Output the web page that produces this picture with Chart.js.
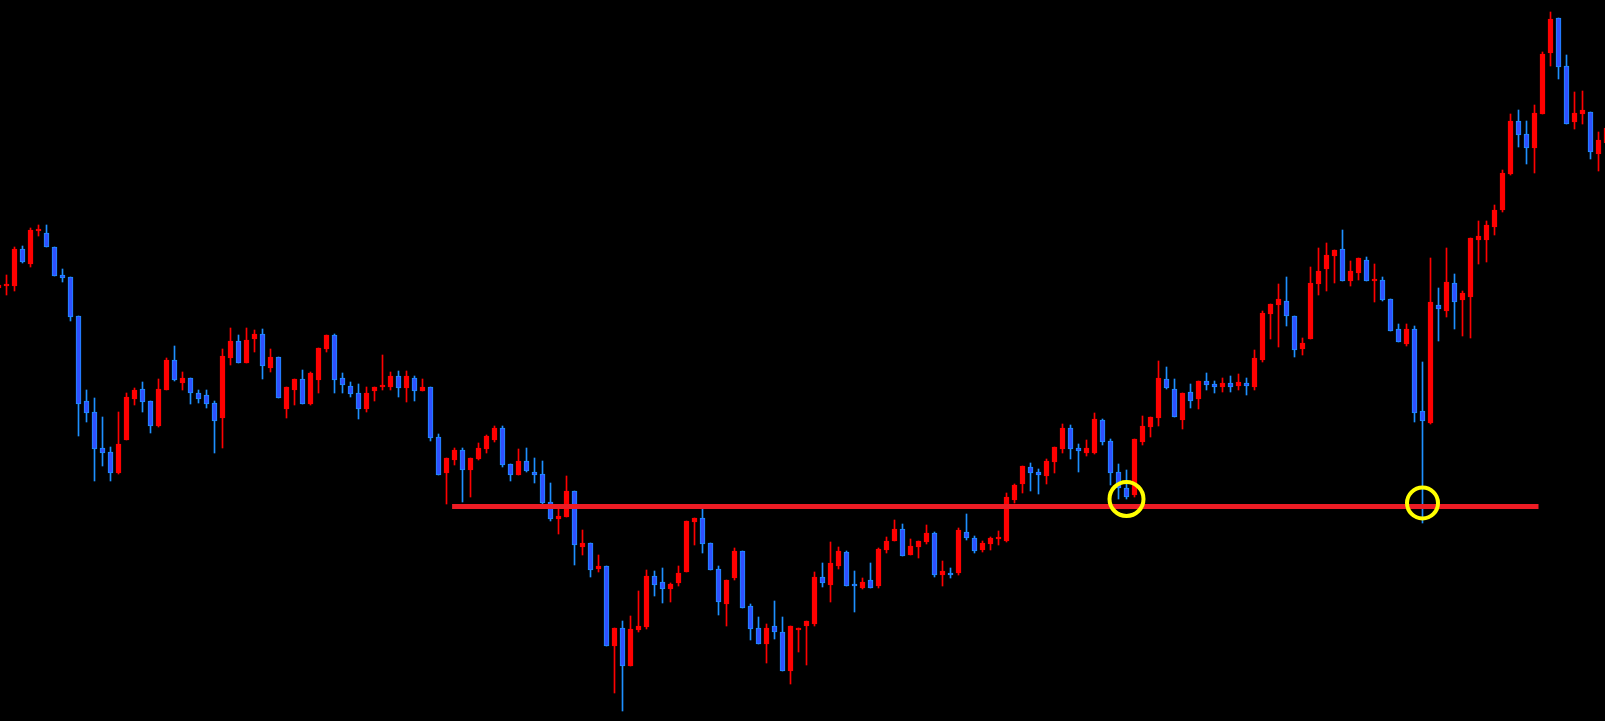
<!DOCTYPE html>
<html>
<head>
<meta charset="utf-8">
<script src="https://cdn.jsdelivr.net/npm/chart.js@4.4.1/dist/chart.umd.min.js"></script>
<style>
html, body { margin: 0; padding: 0; background: #000; overflow: hidden; }
canvas { display: block; }
</style>
</head>
<body>
<canvas id="grafico" width="1605" height="721"></canvas>
<script>
'use strict';

// Velas (índice de la primera vela visible, parcialmente cortada)
const primeraVela = -1;

const aperturas = [
    433, 435, 435, 472, 457, 490, 488, 474, 446, 444, 405,
    320, 309, 273, 269, 248, 281, 322, 332, 320, 295,
    331, 361, 338, 343, 328, 326, 318, 303, 363, 380,
    358, 382, 387, 353, 364, 312, 331, 342, 317, 341,
    372, 386, 343, 335, 328, 312, 330, 334, 334, 345,
    333, 343, 330, 334, 284, 248, 261, 271, 251, 262,
    272, 281, 293, 257, 246, 260, 249, 247, 219, 202,
    204, 230, 174, 178, 152, 155, 75, 93, 55, 91,
    94, 145, 139, 132, 138, 149, 199, 203, 178, 152,
    117, 143, 170, 115, 93, 77, 95, 89, 50, 91,
    95, 97, 144, 136, 155, 169, 137, 133, 141, 135,
    171, 180, 192, 166, 174, 179, 188, 146, 148, 148,
    189, 183, 171, 177, 182, 180, 221, 237, 254, 249,
    245, 259, 272, 293, 273, 268, 268, 301, 280, 249,
    233, 226, 279, 294, 303, 342, 332, 301, 329, 322,
    340, 337, 334, 338, 335, 338, 334, 361, 407, 416,
    420, 405, 372, 382, 437, 452, 465, 472, 440, 448,
    461, 440, 441, 422, 392, 377, 392, 310, 298, 416,
    410, 438, 421, 424, 481, 481, 494, 511, 547, 600,
    587, 573, 607, 668, 703, 655, 599, 607, 609, 567,
    578
];

const maximos = [
    439, 446, 474, 475, 493, 496, 496, 474, 452, 444, 405,
    331, 323, 304, 274, 309, 328, 333, 339, 320, 342,
    363, 375, 349, 343, 331, 331, 320, 372, 393, 386,
    393, 391, 392, 372, 364, 334, 342, 351, 349, 373,
    386, 387, 348, 339, 337, 334, 334, 366, 349, 350,
    350, 345, 342, 334, 287, 263, 273, 273, 263, 278,
    286, 295, 295, 257, 272, 273, 263, 260, 238, 212,
    245, 230, 191, 178, 166, 155, 93, 100, 105, 130,
    151, 150, 153, 138, 155, 200, 203, 214, 178, 155,
    141, 173, 170, 117, 104, 97, 120, 104, 95, 93,
    100, 149, 158, 179, 174, 170, 150, 143, 158, 173,
    184, 201, 197, 182, 180, 196, 189, 160, 153, 193,
    207, 185, 180, 184, 190, 228, 237, 255, 258, 252,
    262, 274, 297, 296, 277, 281, 308, 302, 282, 257,
    251, 282, 305, 304, 360, 354, 342, 328, 337, 340,
    348, 340, 343, 345, 347, 343, 371, 410, 417, 437,
    444, 405, 383, 454, 473, 478, 471, 491, 460, 463,
    464, 457, 444, 422, 397, 397, 395, 359, 463, 433,
    473, 447, 430, 483, 500, 500, 516, 551, 607, 611,
    600, 616, 669, 709, 703, 666, 629, 630, 609, 589,
    596
];

const minimos = [
    430, 426, 430, 458, 454, 485, 474, 445, 439, 400, 285,
    299, 240, 255, 240, 247, 281, 316, 309, 288, 294,
    331, 340, 331, 317, 318, 313, 268, 273, 356, 358,
    358, 369, 342, 349, 323, 303, 316, 317, 316, 328,
    369, 328, 328, 324, 302, 309, 320, 331, 331, 324,
    319, 320, 330, 280, 246, 217, 256, 219, 224, 261,
    268, 279, 254, 240, 246, 249, 238, 217, 200, 187,
    204, 156, 166, 144, 149, 75, 28, 10, 55, 89,
    92, 125, 118, 119, 135, 149, 176, 168, 151, 106,
    95, 141, 113, 81, 77, 58, 82, 50, 37, 69,
    56, 95, 134, 119, 152, 135, 109, 132, 133, 133,
    168, 180, 165, 166, 163, 177, 144, 135, 143, 146,
    181, 168, 169, 171, 176, 179, 218, 228, 230, 227,
    237, 248, 268, 262, 249, 265, 267, 276, 236, 222,
    222, 224, 276, 284, 295, 332, 304, 292, 313, 312,
    331, 328, 329, 329, 331, 326, 331, 359, 382, 374,
    395, 364, 366, 382, 426, 430, 438, 440, 435, 441,
    440, 419, 420, 390, 379, 375, 299, 198, 297, 380,
    404, 392, 385, 383, 457, 459, 486, 509, 546, 574,
    557, 548, 607, 655, 642, 597, 592, 597, 562, 550,
    571
];

const cierres = [
    436, 436, 472, 459, 491, 491, 474, 445, 443, 404, 317,
    308, 272, 268, 248, 277, 324, 331, 319, 295, 332,
    361, 341, 343, 328, 322, 317, 300, 365, 380, 358,
    381, 387, 355, 364, 323, 334, 342, 317, 348, 373,
    386, 341, 336, 327, 312, 328, 334, 335, 345, 333,
    345, 330, 334, 283, 246, 263, 271, 251, 263, 273,
    285, 293, 256, 246, 260, 250, 246, 218, 202, 205,
    230, 176, 178, 151, 155, 75, 93, 55, 92, 95,
    145, 136, 132, 137, 148, 200, 203, 177, 151, 119,
    141, 170, 113, 92, 77, 93, 89, 50, 95, 93,
    100, 144, 138, 158, 170, 135, 135, 139, 133, 172,
    180, 192, 165, 175, 180, 188, 146, 150, 146, 191,
    183, 170, 178, 183, 183, 224, 236, 255, 248, 246,
    260, 274, 293, 272, 270, 273, 302, 279, 248, 233,
    224, 282, 295, 304, 343, 333, 304, 328, 320, 340,
    336, 334, 338, 334, 339, 335, 363, 408, 417, 422,
    405, 371, 378, 438, 450, 466, 471, 440, 450, 463,
    440, 441, 421, 390, 379, 392, 308, 300, 419, 412,
    439, 419, 428, 483, 485, 496, 511, 548, 600, 586,
    573, 608, 667, 702, 654, 597, 608, 611, 569, 581,
    593
];

// Soporte horizontal y toques marcados
const nivelSoporte = 214.5;
const soporteDesde = 55.7;
const soporteHasta = 191.5;
const toquesVela = [140, 177];
const toquesPrecio = [222, 218];
const toquesRadio = [17, 15.5];

const ROJO = '#ff0000';
const AZUL_RELLENO = '#3050ff';
const AZUL_BORDE = '#1e90ff';

const velas = aperturas.map((o, i) => ({
    x: i + primeraVela,
    o: o,
    h: maximos[i],
    l: minimos[i],
    c: cierres[i]
}));
const alcista = velas.map(v => v.c >= v.o);

new Chart(document.getElementById('grafico').getContext('2d'), {
    type: 'bar',
    data: {
        datasets: [
            {
                type: 'line',
                data: toquesVela.map((x, i) => ({ x: x, y: toquesPrecio[i] })),
                showLine: false,
                pointRadius: toquesRadio,
                pointBorderWidth: 4,
                pointBorderColor: '#ffff00',
                pointBackgroundColor: 'rgba(0,0,0,0)',
                order: 0
            },
            {
                type: 'line',
                data: [{ x: soporteDesde, y: nivelSoporte }, { x: soporteHasta, y: nivelSoporte }],
                borderColor: 'rgb(237, 28, 36)',
                borderWidth: 5,
                pointRadius: 0,
                order: 1
            },
            {
                // cuerpos
                data: velas.map(v => ({ x: v.x, y: [v.o, v.c] })),
                backgroundColor: alcista.map(a => a ? ROJO : AZUL_RELLENO),
                borderColor: alcista.map(a => a ? ROJO : AZUL_BORDE),
                borderWidth: 1,
                borderSkipped: false,
                barThickness: 5,
                minBarLength: 2,
                grouped: false,
                order: 2
            },
            {
                // mechas
                data: velas.map(v => ({ x: v.x, y: [v.l, v.h] })),
                backgroundColor: alcista.map(a => a ? ROJO : AZUL_BORDE),
                borderWidth: 0,
                barThickness: 1,
                grouped: false,
                order: 3
            }
        ]
    },
    options: {
        responsive: false,
        animation: false,
        events: [],
        layout: { padding: 0, autoPadding: false },
        plugins: { legend: { display: false }, tooltip: { enabled: false } },
        scales: {
            x: { type: 'linear', min: -0.8125, max: 199.8125, offset: false, display: false },
            y: { type: 'linear', min: 0, max: 721, display: false }
        }
    }
});
</script>
</body>
</html>
